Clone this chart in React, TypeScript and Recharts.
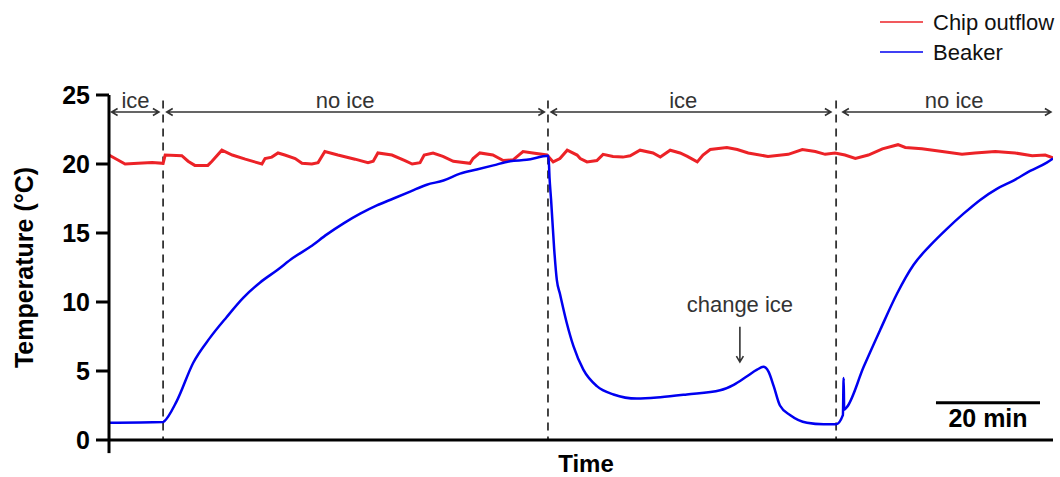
import { LineChart, Line, XAxis, YAxis, ReferenceLine, ReferenceDot } from "recharts";

// time in minutes, temperature in °C
const chipTime = [0, 1.2, 3.1, 5.6, 8.3, 10.4, 10.8, 14.0, 15.2, 16.5, 19.0, 19.8, 21.7, 23.7, 26.2, 29.4, 30.0, 31.3, 32.5, 33.8,
  35.8, 37.1, 39.0, 40.2, 41.5, 44.0, 47.3, 49.8, 50.8, 51.7, 54.4, 56.9, 58.3, 59.8, 60.6, 62.3, 64.2, 66.2, 69.4, 70.0,
  71.3, 73.8, 75.8, 77.7, 79.6, 81.5, 84.2, 85.4, 86.7, 88.1, 90.0, 90.6, 91.9, 93.8, 95.0, 96.9, 98.8, 100.2, 102.1, 104.6,
  106.0, 107.9, 109.8, 111.2, 113.1, 114.2, 115.6, 118.8, 120.8, 122.9, 126.7, 130.6, 133.3, 135.8, 137.7, 139.6, 141.5, 143.5, 146.0, 148.7,
  151.7, 153.1, 156.3, 160.2, 164.0, 166.5, 170.4, 174.2, 177.5, 180.0, 181.5];
const chipTemp = [20.65, 20.4, 20.0, 20.05, 20.1, 20.05, 20.65, 20.6, 20.2, 19.9, 19.9, 20.2, 21.0, 20.65, 20.35, 20.0, 20.4, 20.5, 20.8, 20.65,
  20.4, 20.05, 20.0, 20.1, 20.9, 20.65, 20.35, 20.1, 20.2, 20.8, 20.65, 20.25, 20.0, 20.1, 20.65, 20.8, 20.55, 20.2, 20.05, 20.4,
  20.8, 20.65, 20.25, 20.3, 20.9, 20.8, 20.65, 20.15, 20.4, 21.0, 20.65, 20.4, 20.15, 20.25, 20.7, 20.55, 20.5, 20.6, 21.0, 20.8,
  20.5, 21.0, 20.8, 20.55, 20.15, 20.65, 21.05, 21.2, 21.05, 20.8, 20.55, 20.7, 21.05, 20.9, 20.7, 20.8, 20.65, 20.4, 20.65, 21.1,
  21.4, 21.2, 21.1, 20.9, 20.7, 20.8, 20.9, 20.8, 20.6, 20.65, 20.45];

const beakerTime = [0, 10.4, 10.6, 13.0, 16.2, 19.4, 22.6, 25.8, 29.0, 32.3, 35.4, 38.7, 41.9, 45.1, 48.3, 51.5, 54.7, 57.9, 61.1, 64.3,
  67.5, 70.7, 73.9, 77.1, 80.3, 84.5, 84.7, 85.0, 85.6, 86.1, 86.7, 88.0, 89.3, 91.2, 93.8, 97.0, 101.5, 106.0, 111.1, 117.5,
  120.1, 122.6, 124.6, 125.8, 126.8, 127.8, 129.0, 131.0, 134.2, 137.4, 139.8, 141.1, 141.25, 141.35, 141.9, 145.1, 148.3, 151.5, 154.7, 157.9,
  161.1, 164.3, 167.5, 170.7, 173.9, 177.1, 180.3, 181.5];
const beakerTemp = [1.25, 1.3, 1.35, 2.8, 5.6, 7.4, 8.9, 10.3, 11.4, 12.3, 13.2, 14.0, 14.9, 15.7, 16.4, 17.0, 17.5, 18.0, 18.5, 18.8,
  19.3, 19.6, 19.9, 20.2, 20.3, 20.6, 19.0, 17.4, 13.8, 11.6, 10.6, 8.5, 6.8, 5.1, 3.9, 3.3, 3.0, 3.1, 3.3, 3.6,
  4.0, 4.6, 5.1, 5.3, 4.95, 3.9, 2.5, 1.8, 1.25, 1.14, 1.14, 1.8, 4.5, 2.2, 2.4, 5.3, 8.0, 10.6, 12.7, 14.1,
  15.3, 16.4, 17.4, 18.2, 18.8, 19.5, 20.1, 20.4];

const yTicks = [0, 5, 10, 15, 20, 25];
const switchTimes = [10.4, 84.4, 139.8];
const phaseLabels = ["ice", "no ice", "ice", "no ice"];
const phaseStart = [0.5, 11.1, 85.0, 141.1];
const phaseEnd = [9.6, 83.7, 138.8, 181.1];
const phaseLabelAt = [5.1, 45.4, 110.4, 162.5];
const changeIceTime = 121.3;

const RED = "#ec2227";
const BLUE = "#0000f0";
const GREY = "#333";
const FONT = "Liberation Sans, Arial, Helvetica, sans-serif";

const chipData = chipTime.map((t, i) => ({ t, v: chipTemp[i] }));
const beakerData = beakerTime.map((t, i) => ({ t, v: beakerTemp[i] }));

// line with open chevron heads
const arrowShape = (both: boolean) => (p: any) => {
  const { x1, y1, x2, y2 } = p;
  const dx = x2 - x1, dy = y2 - y1;
  const len = Math.hypot(dx, dy) || 1;
  const ux = dx / len, uy = dy / len;
  const h = 6, w = 3.5;
  const head = (x: number, y: number, sx: number, sy: number) =>
    `M${x - sx * h - sy * w},${y - sy * h + sx * w} L${x},${y} L${x - sx * h + sy * w},${y - sy * h - sx * w}`;
  let d = `M${x1},${y1} L${x2},${y2} ` + head(x2, y2, ux, uy);
  if (both) d += " " + head(x1, y1, -ux, -uy);
  return <path d={d} stroke={GREY} strokeWidth={1.6} fill="none" />;
};

export default function App() {
  return (
    <div style={{ position: "absolute", left: 0, top: 0, width: 1060, height: 477, fontFamily: FONT, background: "#fff" }}>
      <LineChart width={1060} height={477} margin={{ top: 95, right: 7, bottom: 0, left: 0 }}>
        <XAxis
          type="number"
          dataKey="t"
          domain={[0, 181.5]}
          allowDataOverflow
          ticks={[]}
          tick={false}
          tickLine={false}
          height={37}
          axisLine={{ stroke: "#000", strokeWidth: 3 }}
          label={{
            content: ({ viewBox }: any) => (
              <text x={viewBox.x + viewBox.width / 2 + 5} y={viewBox.y + 32} textAnchor="middle"
                fontSize={24} fontWeight={700} fontFamily={FONT} fill="#000">Time</text>
            ),
          }}
        />
        <YAxis
          type="number"
          domain={[0, 25]}
          ticks={yTicks}
          width={109}
          tickSize={13}
          tickMargin={6}
          tick={{ fontSize: 25, fontWeight: 700, fill: "#000", fontFamily: FONT }}
          axisLine={{ stroke: "#000", strokeWidth: 3 }}
          tickLine={{ stroke: "#000", strokeWidth: 3 }}
          label={{
            content: ({ viewBox }: any) => {
              const cx = 24, cy = viewBox.y + viewBox.height / 2;
              return (
                <text x={cx} y={cy} dy="0.355em" textAnchor="middle" transform={`rotate(-90 ${cx} ${cy})`}
                  fontSize={25} fontWeight={700} fontFamily={FONT} fill="#000">Temperature (°C)</text>
              );
            },
          }}
        />
        {/* y axis runs a bit past zero */}
        <ReferenceLine segment={[{ x: 0, y: 0 }, { x: 0, y: -0.95 }]} ifOverflow="visible" stroke="#000" strokeWidth={3} />

        {switchTimes.map((t) => (
          <ReferenceLine key={t} segment={[{ x: t, y: 24.6 }, { x: t, y: 0 }]} stroke={GREY} strokeWidth={1.8} strokeDasharray="8 6" />
        ))}
        {phaseLabels.map((lab, i) => (
          <ReferenceLine key={"a" + i} segment={[{ x: phaseStart[i], y: 23.77 }, { x: phaseEnd[i], y: 23.77 }]} shape={arrowShape(true)} />
        ))}
        {phaseLabels.map((lab, i) => (
          <ReferenceDot key={"l" + i} x={phaseLabelAt[i]} y={23.77} r={0} fill="none" stroke="none"
            label={{ value: lab, position: "top", offset: 4, fontSize: 22, fill: GREY, fontFamily: FONT }} />
        ))}

        <ReferenceLine segment={[{ x: changeIceTime, y: 8.2 }, { x: changeIceTime, y: 5.65 }]} shape={arrowShape(false)}
          label={{ value: "change ice", position: "top", offset: 15, fontSize: 22, fill: GREY, fontFamily: FONT }} />

        {/* 20 min scale bar */}
        <ReferenceLine segment={[{ x: 159, y: 2.7 }, { x: 179, y: 2.7 }]} stroke="#000" strokeWidth={3}
          label={{ value: "20 min", position: "bottom", offset: 7, fontSize: 25, fontWeight: 700, fill: "#000", fontFamily: FONT }} />

        <Line data={chipData} dataKey="v" type="linear" stroke={RED} strokeWidth={3} dot={false} isAnimationActive={false} />
        <Line data={beakerData} dataKey="v" type="monotone" stroke={BLUE} strokeWidth={2.5} dot={false} isAnimationActive={false} />
      </LineChart>

      <svg width={180} height={70} style={{ position: "absolute", left: 880, top: 0 }}>
        <line x1={0} y1={22} x2={43} y2={22} stroke={RED} strokeWidth={1.6} />
        <line x1={0} y1={52} x2={43} y2={52} stroke={BLUE} strokeWidth={1.6} />
        <text x={53} y={30} fontSize={22} fontFamily={FONT} fill="#111">Chip outflow</text>
        <text x={53} y={60} fontSize={22} fontFamily={FONT} fill="#111">Beaker</text>
      </svg>
    </div>
  );
}
